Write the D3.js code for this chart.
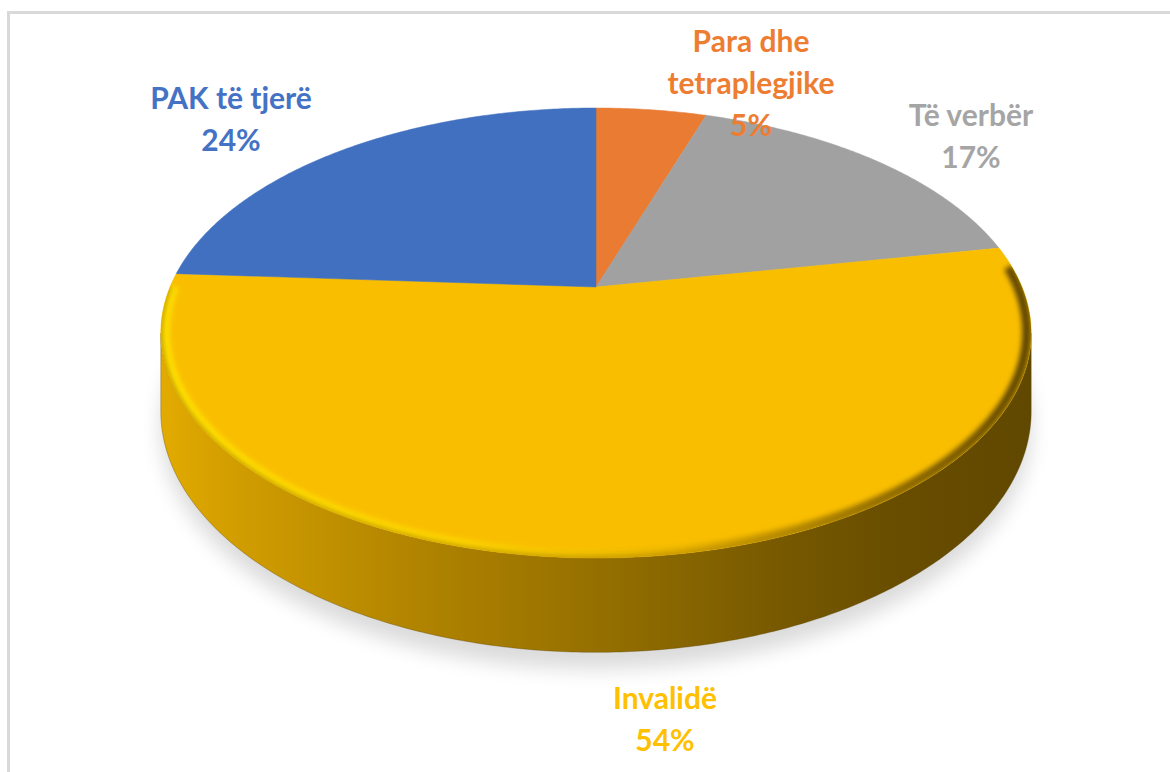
<!DOCTYPE html>
<html>
<head>
<meta charset="utf-8">
<script src="https://cdn.jsdelivr.net/npm/d3@7"></script>
<style>
  html,body{margin:0;padding:0;background:#fff;}
  svg{display:block;}
  .lbl{font-family:Lato,"Open Sans",sans-serif;font-weight:700;font-size:30px;}
</style>
</head>
<body>
<script>
// --- data (Excel order: clockwise from 12 o'clock)
const categories = ['Para dhe tetraplegjike', 'Të verbër', 'Invalidë', 'PAK të tjerë'];
const values = [5, 17, 54, 24];
const topColors = ['#e97b32', '#a1a1a1', '#f9be00', '#4070bf'];
const labelColors = ['#ED7D31', '#A5A5A5', '#FFC000', '#4472C4'];
const labelLines = [['Para dhe', 'tetraplegjike', '5%'], ['Të verbër', '17%'], ['Invalidë', '54%'], ['PAK të tjerë', '24%']];

// --- layout
const W = 1170, H = 772;
const cx = 596, cy = 287;          // where the slices meet (projected pie centre)
const A = 426, B = 215.6, k = 0.2045, depth = 75;
const labelAt = [[751, 52], [971, 126], [665, 709], [231, 109]];
const lineGap = 42;

const svg = d3.select('body').append('svg').attr('width', W).attr('height', H);
const defs = svg.append('defs');

// chart area border (only top/left visible)
svg.append('rect').attr('x', 8.5).attr('y', 12.5).attr('width', W + 20).attr('height', H + 20)
  .attr('fill', '#fff').attr('stroke', '#d9d9d9').attr('stroke-width', 3);

// perspective projection of the unit disc, a = d3 angle (0 = top, clockwise)
function proj(a, z = 0, r = 1){
  const u = r*Math.sin(a), v = r*Math.cos(a), w = 1 + k*v;
  return [cx + A*u/w, cy - B*v/w + z*depth/w];
}
function arcPts(a0, a1, z, r = 1){
  const n = Math.max(2, Math.ceil(Math.abs(a1 - a0)/0.01));
  return d3.range(n + 1).map(i => proj(a0 + (a1 - a0)*i/n, z, r));
}
const line = d3.line();

const pie = d3.pie().sort(null).value(d => d)(values);
const aL = Math.PI/2 + Math.asin(k), aR = 3*Math.PI/2 - Math.asin(k);

// filters / gradients
const blur = defs.append('filter').attr('id', 'shadow').attr('x', '-20%').attr('y', '-20%').attr('width', '140%').attr('height', '140%');
blur.append('feGaussianBlur').attr('stdDeviation', 10);
const soft = defs.append('filter').attr('id', 'soft').attr('x', '-10%').attr('y', '-10%').attr('width', '120%').attr('height', '120%');
soft.append('feGaussianBlur').attr('stdDeviation', 2.4);

const xl = proj(aR)[0], xr = proj(aL)[0];
const sideGrad = defs.append('linearGradient').attr('id', 'side').attr('gradientUnits', 'userSpaceOnUse')
  .attr('x1', xl).attr('x2', xr).attr('y1', 0).attr('y2', 0);
[[0, '#e3ab00'], [0.08, '#d29e00'], [0.3, '#b08300'], [0.5, '#957000'], [0.72, '#765800'], [0.85, '#684d00'], [1, '#614800']]
  .forEach(([o, c]) => sideGrad.append('stop').attr('offset', o).attr('stop-color', c));

const rimGrad = defs.append('linearGradient').attr('id', 'rim').attr('gradientUnits', 'userSpaceOnUse')
  .attr('x1', xl).attr('x2', xr).attr('y1', 0).attr('y2', 0);
[[0, '#ffe000'], [0.35, '#ffd600'], [0.6, '#e8b200'], [0.85, '#8f6b00'], [1, '#5e4500']]
  .forEach(([o, c]) => rimGrad.append('stop').attr('offset', o).attr('stop-color', c));

const topOutline = line(arcPts(0, 2*Math.PI, 0)) + 'Z';
defs.append('clipPath').attr('id', 'topclip').append('path').attr('d', topOutline);

// soft shadow under the pie
svg.append('path')
  .attr('d', line(arcPts(0, 2*Math.PI, 1.05)) + 'Z')
  .attr('transform', 'translate(0,12)')
  .attr('fill', '#000').attr('opacity', 0.14).attr('filter', 'url(#shadow)');

// sides (front half only)
pie.forEach((s, i) => {
  const s0 = Math.max(s.startAngle, aL), s1 = Math.min(s.endAngle, aR);
  if(s1 <= s0) return;
  const pts = arcPts(s0, s1, 0).concat(arcPts(s1, s0, 1));
  svg.append('path').attr('d', line(pts) + 'Z')
    .attr('fill', i === 2 ? 'url(#side)' : d3.color(topColors[i]).darker(1))
    .attr('stroke', '#5a4200').attr('stroke-width', 0.6).attr('stroke-opacity', 0.6);
});

// top faces
pie.forEach((s, i) => {
  const pts = [proj(0, 0, 0)].concat(arcPts(s.startAngle, s.endAngle, 0));
  svg.append('path').attr('d', line(pts) + 'Z').attr('fill', topColors[i])
    .attr('stroke', topColors[i]).attr('stroke-width', 0.5);
});

// bevel on the front rim, kept inside the big slice
const big = pie[2];
const b0 = Math.max(aL - 0.3, big.startAngle + 0.06), b1 = Math.min(aR + 0.3, big.endAngle - 0.06);
const bev = svg.append('g').attr('clip-path', 'url(#topclip)');
bev.append('path').attr('d', line(arcPts(b0, b1, 0, 0.99)))
  .attr('fill', 'none').attr('stroke', 'url(#rim)').attr('stroke-width', 9)
  .attr('filter', 'url(#soft)');
bev.append('path').attr('d', line(arcPts(b0, b1, 0)))
  .attr('fill', 'none').attr('stroke', '#6b5000').attr('stroke-width', 4).attr('stroke-opacity', 0.4)
  .attr('filter', 'url(#soft)');

// data labels
labelLines.forEach((lines, i) => {
  const t = svg.append('text').attr('class', 'lbl').attr('fill', labelColors[i])
    .attr('text-anchor', 'middle');
  lines.forEach((s, j) => t.append('tspan').attr('x', labelAt[i][0]).attr('y', labelAt[i][1] + j*lineGap).text(s));
});
</script>
</body>
</html>
